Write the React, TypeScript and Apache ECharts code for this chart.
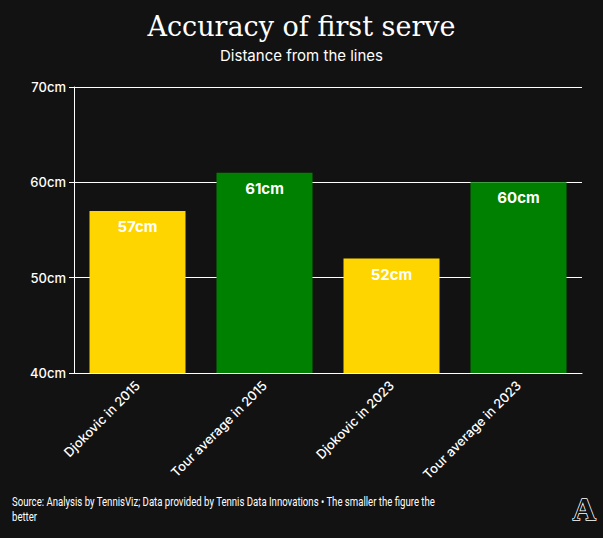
import React, { useEffect, useRef } from "react";
import * as echarts from "echarts";

const categories = ["Djokovic in 2015", "Tour average in 2015", "Djokovic in 2023", "Tour average in 2023"];
const values = [57, 61, 52, 60];
const barColors = ["#FFD500", "#008000", "#FFD500", "#008000"];

export default function App() {
  const ref = useRef<HTMLDivElement>(null);
  useEffect(() => {
    const chart = echarts.init(ref.current!, null, { renderer: "svg" });
    chart.setOption({
      animation: false,
      backgroundColor: "#121212",
      textStyle: { fontFamily: "Inter" },
      title: [
        {
          text: "Accuracy of first serve",
          left: "center",
          top: 8,
          textStyle: { fontFamily: "DejaVu Serif", fontSize: 27, fontWeight: "normal", color: "#ffffff" },
        },
        {
          text: "Distance from the lines",
          left: "center",
          top: 43,
          textStyle: { fontFamily: "Inter", fontSize: 15, fontWeight: "normal", color: "#ffffff" },
        },
      ],
      grid: { left: 74, right: 21, top: 87, bottom: 165 },
      xAxis: {
        type: "category",
        data: categories,
        axisLine: { lineStyle: { color: "#ffffff", width: 1 } },
        axisTick: { alignWithLabel: true, length: 5, lineStyle: { color: "#ffffff" } },
        axisLabel: { rotate: 45, color: "#ffffff", fontSize: 13, fontWeight: 500, margin: 10, fontFamily: "Inter" },
      },
      yAxis: {
        type: "value",
        min: 40,
        max: 70,
        interval: 10,
        axisLine: { show: true, lineStyle: { color: "#ffffff", width: 1 } },
        axisTick: { show: true, length: 5, lineStyle: { color: "#ffffff" } },
        axisLabel: { color: "#ffffff", fontSize: 13, fontWeight: 500, margin: 8, formatter: "{value}cm", fontFamily: "Inter" },
        splitLine: { show: true, lineStyle: { color: "#ffffff", width: 1 } },
      },
      series: [
        {
          type: "bar",
          barWidth: 96,
          data: values.map((v, i) => ({ value: v, itemStyle: { color: barColors[i] } })),
          label: {
            show: true,
            position: "insideTop",
            distance: 8,
            formatter: "{c}cm",
            color: "#ffffff",
            fontSize: 15,
            fontWeight: "bold",
            fontFamily: "Inter",
          },
        },
      ],
      graphic: [
        {
          type: "text",
          left: 12,
          top: 495,
          scaleX: 0.8,
          style: {
            text: "Source: Analysis by TennisViz; Data provided by Tennis Data Innovations • The smaller the figure the\nbetter",
            fill: "#ffffff",
            font: "12px Roboto",
            lineHeight: 15,
          },
        },
        {
          type: "text",
          left: 572,
          top: 492,
          style: {
            text: "A",
            fill: "#121212",
            stroke: "#ffffff",
            lineWidth: 1.5,
            font: "bold 32px 'Liberation Serif'",
          },
        },
      ],
    });
    return () => chart.dispose();
  }, []);
  return <div ref={ref} style={{ width: 603, height: 538, position: "absolute", left: 0, top: 0 }} />;
}
